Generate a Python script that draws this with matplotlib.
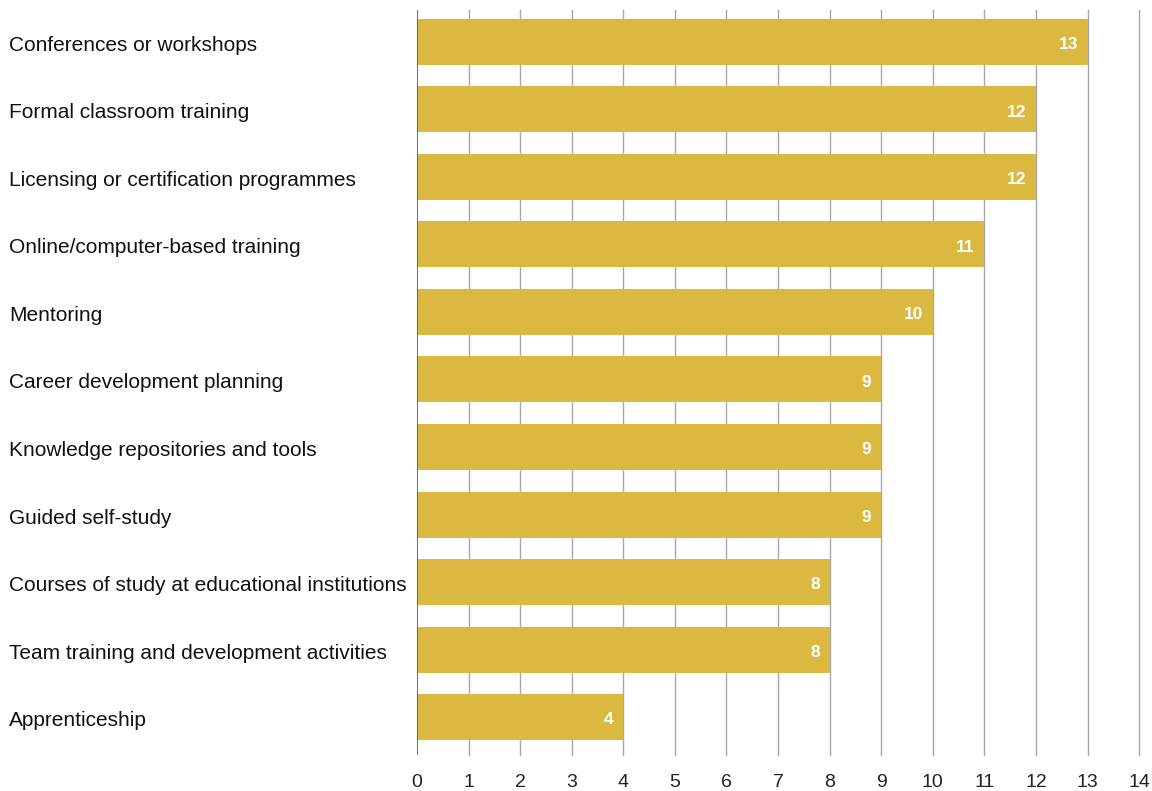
import matplotlib.pyplot as plt

plt.rcParams['font.family'] = ['Liberation Sans', 'DejaVu Sans']

categories = [
    "Conferences or workshops",
    "Formal classroom training",
    "Licensing or certification programmes",
    "Online/computer-based training",
    "Mentoring",
    "Career development planning",
    "Knowledge repositories and tools",
    "Guided self-study",
    "Courses of study at educational institutions",
    "Team training and development activities",
    "Apprenticeship",
]
values = [13, 12, 12, 11, 10, 9, 9, 9, 8, 8, 4]
x_ticks = list(range(0, 15))

bar_color = "#DBB940"

fig = plt.figure(figsize=(11.52, 7.91), dpi=100)
ax = fig.add_axes([0.362, 0.0455, 0.6268, 0.9419])

positions = list(range(len(categories)))
ax.barh(positions, values, height=0.68, color=bar_color, zorder=2)

# value labels inside the bar ends
for y, v in zip(positions, values):
    ax.annotate(str(v), xy=(v, y), xytext=(-7, -2), textcoords="offset points",
                ha="right", va="center", color="white", fontsize=12.5,
                fontweight="bold", zorder=3)

# category labels flush left in figure space
for y, name in zip(positions, categories):
    ax.annotate(name, xy=(0, y), xycoords=("figure fraction", "data"),
                xytext=(6.5, -2.5), textcoords="offset points",
                ha="left", va="center", fontsize=15, color="#111111")

ax.set_xlim(0, 14)
ax.set_ylim(10.56, -0.47)
ax.set_xticks(x_ticks)
ax.set_xticklabels([str(t) for t in x_ticks], fontsize=14, color="#222222")
ax.tick_params(axis="x", length=0, pad=13.5)
ax.set_yticks([])

# vertical gridlines, unclipped so the one at 14 shows at the edge
for t in x_ticks[1:]:
    ax.axvline(t, color="#A8A8A8", linewidth=1, zorder=1, clip_on=False)
ax.axvline(0, color="#555555", linewidth=1.2, zorder=3)
for side in ["top", "right", "bottom", "left"]:
    ax.spines[side].set_visible(False)

fig.savefig("out.png", dpi=100)
